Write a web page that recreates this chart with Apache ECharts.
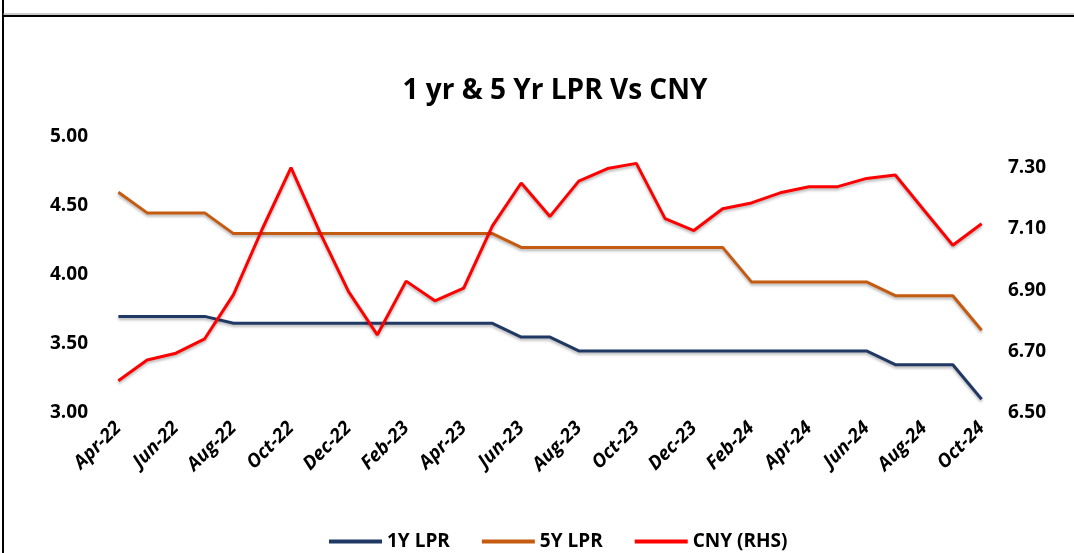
<!DOCTYPE html>
<html>
<head>
<meta charset="utf-8">
<script src="https://cdn.jsdelivr.net/npm/echarts@6/dist/echarts.min.js"></script>
<style>
  html, body { margin: 0; padding: 0; background: #fff; }
  #chart { width: 1074px; height: 553px; }
</style>
</head>
<body>
<div id="chart"></div>
<script>
// months, Apr-22 .. Oct-24
var months = ['Apr-22', 'May-22', 'Jun-22', 'Jul-22', 'Aug-22', 'Sep-22', 'Oct-22', 'Nov-22', 'Dec-22',
    'Jan-23', 'Feb-23', 'Mar-23', 'Apr-23', 'May-23', 'Jun-23', 'Jul-23', 'Aug-23', 'Sep-23', 'Oct-23',
    'Nov-23', 'Dec-23', 'Jan-24', 'Feb-24', 'Mar-24', 'Apr-24', 'May-24', 'Jun-24', 'Jul-24', 'Aug-24',
    'Sep-24', 'Oct-24'];

var lpr1y = [3.70, 3.70, 3.70, 3.70, 3.65, 3.65, 3.65, 3.65, 3.65, 3.65, 3.65, 3.65, 3.65, 3.65, 3.55,
    3.55, 3.45, 3.45, 3.45, 3.45, 3.45, 3.45, 3.45, 3.45, 3.45, 3.45, 3.45, 3.35, 3.35, 3.35, 3.10];

var lpr5y = [4.60, 4.45, 4.45, 4.45, 4.30, 4.30, 4.30, 4.30, 4.30, 4.30, 4.30, 4.30, 4.30, 4.30, 4.20,
    4.20, 4.20, 4.20, 4.20, 4.20, 4.20, 4.20, 3.95, 3.95, 3.95, 3.95, 3.95, 3.85, 3.85, 3.85, 3.60];

var cny = [6.605, 6.673, 6.695, 6.742, 6.886, 7.10, 7.30, 7.09, 6.896, 6.755, 6.93, 6.866, 6.907, 7.11,
    7.25, 7.141, 7.256, 7.297, 7.314, 7.134, 7.095, 7.166, 7.185, 7.218, 7.238, 7.238, 7.265, 7.276,
    7.161, 7.047, 7.117];

var seriesNames = ['1Y LPR', '5Y LPR', 'CNY (RHS)'];
var seriesColors = ['#203864', '#C55A11', '#FF0000'];

var myChart = echarts.init(document.getElementById('chart'));

var labelFont = '"Open Sans", "DejaVu Sans", sans-serif';

function lineSeries(i, data, axisIndex) {
    return {
        name: seriesNames[i],
        type: 'line',
        yAxisIndex: axisIndex,
        data: data,
        symbol: 'none',
        color: seriesColors[i],
        lineStyle: {
            width: 3,
            color: seriesColors[i],
            shadowColor: 'rgba(0,0,0,0.3)',
            shadowBlur: 3,
            shadowOffsetY: 2
        },
        animation: false
    };
}

var option = {
    backgroundColor: '#fff',
    title: {
        text: '1 yr & 5 Yr LPR Vs CNY',
        left: 550,
        top: 72,
        textAlign: 'center',
        textStyle: {
            fontFamily: '"Open Sans", sans-serif',
            fontWeight: 'bold',
            fontSize: 28,
            color: '#000'
        }
    },
    legend: {
        left: 324,
        top: 527,
        icon: 'rect',
        itemWidth: 53,
        itemHeight: 4,
        itemGap: 32,
        data: seriesNames,
        textStyle: {
            fontFamily: labelFont,
            fontWeight: 'bold',
            fontSize: 19,
            color: '#000'
        }
    },
    grid: {
        left: 104,
        right: 78,
        top: 137,
        height: 276,
        containLabel: false
    },
    xAxis: {
        type: 'category',
        data: months,
        boundaryGap: true,
        axisLine: { show: false },
        axisTick: { show: false },
        axisLabel: {
            interval: 1,
            rotate: 45,
            margin: 12,
            fontFamily: labelFont,
            fontStyle: 'italic',
            fontWeight: 'bold',
            fontSize: 19,
            color: '#000'
        }
    },
    yAxis: [{
        type: 'value',
        min: 3,
        max: 5,
        interval: 0.5,
        splitLine: { show: false },
        axisLine: { show: false },
        axisTick: { show: false },
        axisLabel: {
            margin: 16,
            fontFamily: labelFont,
            fontWeight: 'bold',
            fontSize: 19,
            color: '#000',
            formatter: function (v) { return v.toFixed(2); }
        }
    }, {
        type: 'value',
        min: 6.5,
        max: 7.4,
        interval: 0.2,
        splitLine: { show: false },
        axisLine: { show: false },
        axisTick: { show: false },
        axisLabel: {
            margin: 12,
            showMaxLabel: false,
            fontFamily: labelFont,
            fontWeight: 'bold',
            fontSize: 19,
            color: '#000',
            formatter: function (v) { return v.toFixed(2); }
        }
    }],
    graphic: [
        // frame lines at the top and left edge
        { type: 'line', shape: { x1: 3, y1: 0, x2: 3, y2: 553 }, style: { stroke: '#000', lineWidth: 2 } },
        { type: 'line', shape: { x1: 3, y1: 14, x2: 1074, y2: 14 }, style: { stroke: '#999', lineWidth: 1 } },
        { type: 'line', shape: { x1: 3, y1: 16, x2: 1074, y2: 16 }, style: { stroke: '#000', lineWidth: 2 } }
    ],
    series: [
        lineSeries(0, lpr1y, 0),
        lineSeries(1, lpr5y, 0),
        lineSeries(2, cny, 1)
    ]
};

myChart.setOption(option);
</script>
</body>
</html>
